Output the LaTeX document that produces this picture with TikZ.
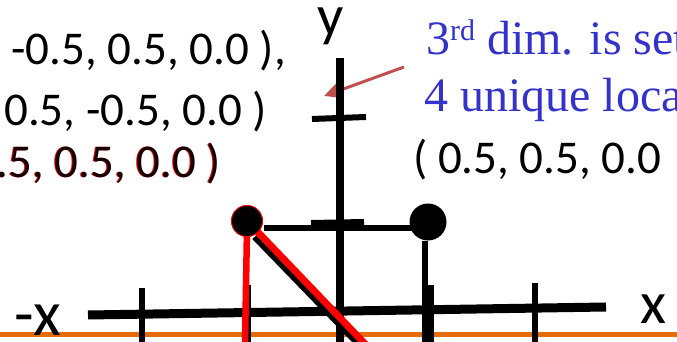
\documentclass[tikz,border=0pt]{standalone}
\usepackage{fontspec}
\setmainfont{Carlito}
\newfontfamily\notefont{Liberation Serif}
\usetikzlibrary{arrows.meta}
\definecolor{axorange}{HTML}{E46C0A}
\definecolor{arrowred}{HTML}{C0504D}
\definecolor{noteblue}{HTML}{3333CC}
\begin{document}
\begin{tikzpicture}[x=1pt,y=-1pt,
  numtxt/.style={inner sep=0pt, font=\fontsize{47}{56}\selectfont},
  axlbl/.style={inner sep=0pt, text height=0.46em, text depth=0pt},
  notetxt/.style={inner sep=0pt, text=noteblue, font=\notefont\fontsize{48}{56}\selectfont},
  axisline/.style={line width=9pt, black},
  yaxisline/.style={line width=8pt, black},
  tickline/.style={line width=6pt, black},
  redline/.style={line width=6.5pt, red},
  dot/.style={circle, fill=black, inner sep=0pt}]
\useasboundingbox (0,0) rectangle (677,342);
\clip (0,0) rectangle (677,342);

% orange base line
\coordinate (oL) at (0,334);
\coordinate (oR) at (677,334);
\draw[axorange, line width=5pt] (oL) -- (oR);

% pointer arrow (behind y axis)
\coordinate (arS) at (404,67);
\coordinate (arE) at (324,96);
\draw[arrowred, line width=3pt, -{Triangle[length=15pt,width=14pt]}] (arS) -- (arE);

% x axis
\coordinate (xL) at (88,315);
\coordinate (xR) at (606,307);
\draw[axisline] (xL) -- (xR);
% y axis
\coordinate (yT) at (339.5,58);
\coordinate (yB) at (339.5,345);
\draw[yaxisline] (yT) -- (yB);

% ticks on y axis
\coordinate (ty1a) at (312,119);
\coordinate (ty1b) at (366,117);
\draw[tickline] (ty1a) -- (ty1b);
\coordinate (ty2a) at (311,223);
\coordinate (ty2b) at (364,222);
\draw[tickline] (ty2a) -- (ty2b);

% ticks on x axis
\foreach \tx/\ty in {142/288, 248/285, 430.5/285, 535/283}{
  \draw[tickline] (\tx,\ty) -- (\tx,345);
}

% dots
\node[dot, minimum size=31pt, draw=red, line width=0.8pt] (pA) at (247,221) {};
\node[dot, minimum size=37pt] (pB) at (428,222) {};

% top horizontal line and right vertical
\coordinate (hL) at (264,227.5);
\coordinate (hR) at (412,227.5);
\draw[line width=6pt] (hL) -- (hR);
\coordinate (rvB) at (425,345);
\draw[line width=5.5pt] (pB.south) ++(-3,0) -- (rvB);

% diagonal (black shadow then red)
\coordinate (dsA) at (254.5,237);
\coordinate (dsB) at (361,347);
\draw[line width=6pt] (dsA) -- (dsB);
\coordinate (drA) at (252,226);
\coordinate (drB) at (367,346);
\draw[redline, line width=7pt] (drA) -- (drB);

% red vertical from left dot
\coordinate (rvA) at (247,228);
\coordinate (rvC) at (245,345);
\draw[redline] (rvA) -- (rvC);

% redraw left dot on top
\node[dot, minimum size=31pt, draw=red, line width=0.8pt] at (pA) {};

% axis labels
\node[axlbl, anchor=base, font=\fontsize{58}{68}\selectfont, text depth=0.2em] (ylab) at (331,36) {y};
\node[axlbl, anchor=base east, font=\fontsize{64}{74}\selectfont] (mxlab) at (61,335) {-x};
\node[axlbl, anchor=base, font=\fontsize{60}{70}\selectfont] (xlab) at (653,323) {x};

% coordinate texts
\node[numtxt, anchor=base east] (c1) at (286,65) {-0.5, 0.5, 0.0 ),};
\node[numtxt, anchor=base east] (c2) at (267,125) {0.5, -0.5, 0.0 )};
\node[numtxt, anchor=base east, text=red] at (220,177.6) {.5, 0.5, 0.0 )};
\node[numtxt, anchor=base east, text=black!92!red] (c3) at (221,177) {.5, 0.5, 0.0 )};
\node[numtxt, anchor=base west] (c4) at (413,173) {( 0.5, 0.5, 0.0};

% note text
\node[notetxt, anchor=base west] (n1) at (426,55) {3\raisebox{0.3em}{\fontsize{30}{30}\selectfont rd} dim. is set};
\node[notetxt, anchor=base west] (n2) at (424,112) {4 unique loca};
\end{tikzpicture}
\end{document}
